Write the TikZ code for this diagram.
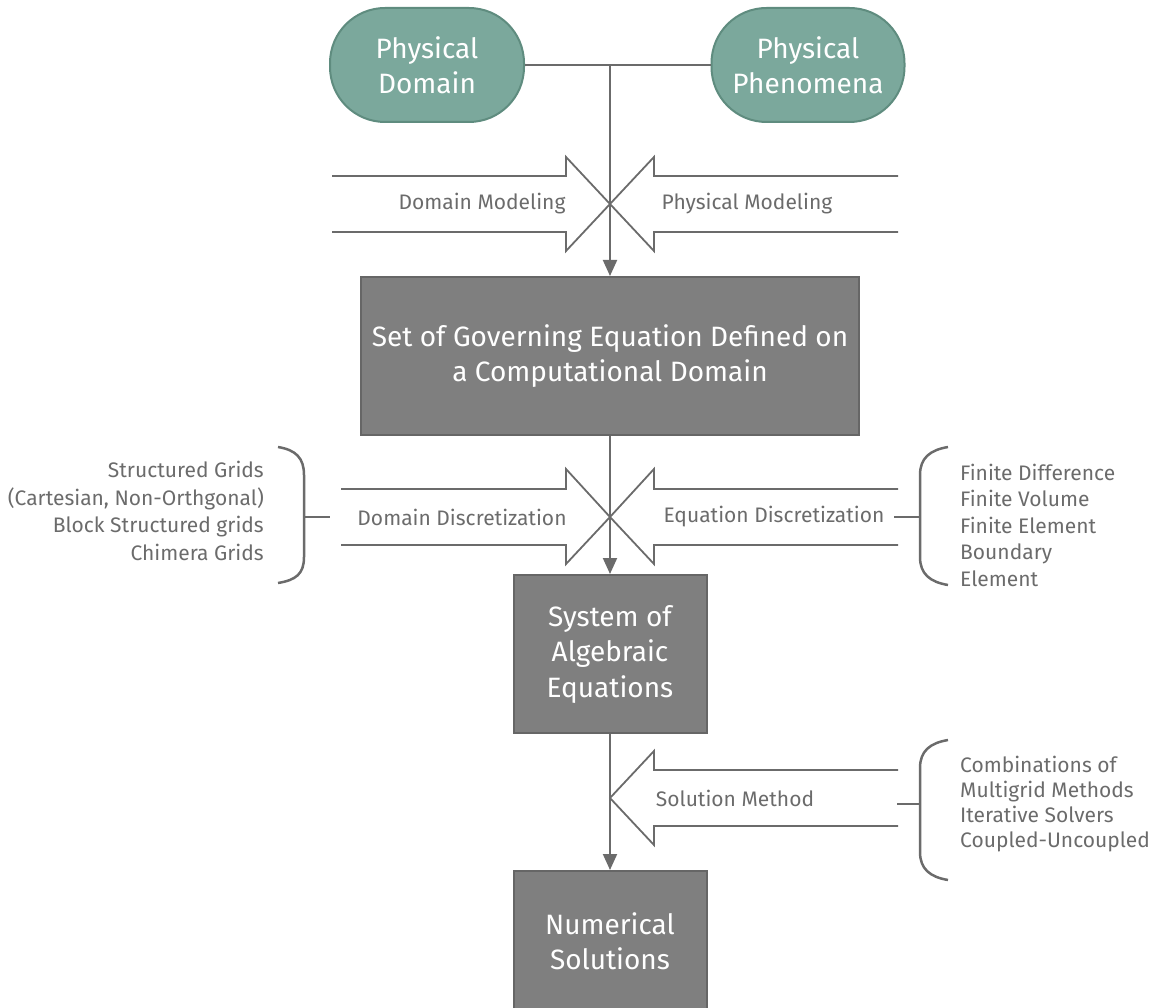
\documentclass[tikz,border=0pt]{standalone}
\usepackage{fontspec}
\setmainfont{Fira Sans}
\usetikzlibrary{arrows.meta}
\definecolor{tealfill}{HTML}{7BA89C}
\definecolor{tealedge}{HTML}{5F8C7F}
\definecolor{boxfill}{HTML}{7F7F7F}
\definecolor{boxedge}{HTML}{666666}
\definecolor{linec}{HTML}{6B6B6B}
\definecolor{txtc}{HTML}{6B6B6B}
\tikzset{
  stadium/.style={draw=tealedge, line width=2pt, fill=tealfill, rounded corners=55pt,
    text=white, align=center, font=\fontsize{28}{35}\selectfont, inner sep=0pt},
  graybox/.style={draw=boxedge, line width=2pt, fill=boxfill, text=white, align=center,
    font=\fontsize{28}{35.5}\selectfont, inner sep=0pt},
  conn/.style={draw=linec, line width=2pt},
  flow/.style={conn, -{Triangle[width=14pt,length=16pt]}},
  blockarrow/.style={draw=linec, line width=1.8pt, line join=miter},
  lbl/.style={text=txtc, font=\fontsize{21}{25}\selectfont, inner sep=0pt},
  listtxt/.style={text=txtc, inner sep=0pt},
  bracec/.style={draw=linec, line width=2.5pt}
}
\begin{document}
\begin{tikzpicture}[x=1pt,y=-1pt]
\useasboundingbox (0,0) rectangle (1160,1008);
% top nodes
\node[stadium, minimum width=194pt, minimum height=114pt] (pd) at (427,65) {Physical\\Domain};
\node[stadium, minimum width=193pt, minimum height=114pt] (pp) at (808,65) {Physical\\Phenomena};
% boxes
\node[graybox, minimum width=498pt, minimum height=158pt] (gov) at (610,356) {Set of Governing Equation Defined on\\a Computational Domain};
\node[graybox, minimum width=193pt, minimum height=158pt] (sys) at (610,654) {System of\\Algebraic\\Equations};
\node[graybox, minimum width=193pt, minimum height=140pt] (num) at (610,941) {Numerical\\Solutions};
% junction and arrow tips
\coordinate (j) at (610,65);
\coordinate (t1) at (610,204);
\coordinate (t2) at (610,517);
\coordinate (t3) at (610,798);
% block arrows pair 1
\draw[blockarrow] (332,176) -- (566,176) -- (566,157) -- (t1) -- (566,251) -- (566,232) -- (332,232);
\draw[blockarrow] (898,176) -- (654,176) -- (654,157) -- (t1) -- (654,251) -- (654,232) -- (898,232);
\node[lbl] (dm) at (482,204) {Domain Modeling};
\node[lbl] (pm) at (747,204) {Physical Modeling};
% block arrows pair 2
\draw[blockarrow] (341,489) -- (566,489) -- (566,469) -- (t2) -- (566,564) -- (566,545) -- (341,545);
\draw[blockarrow] (898,489) -- (654,489) -- (654,469) -- (t2) -- (654,564) -- (654,545) -- (898,545);
\node[lbl] (dd) at (462,517) {Domain Discretization};
\node[lbl] (ed) at (774,517) {Equation Discretization};
% block arrow 3
\draw[blockarrow] (898,770) -- (654,770) -- (654,751) -- (t3) -- (654,845) -- (654,826) -- (898,826);
\node[lbl] (sm) at (735,798) {Solution Method};
% connectors
\draw[conn] (pd.east) -- (pp.west);
\draw[flow] (j) -- (j |- gov.north);
\draw[flow] (gov.south) -- (sys.north);
\draw[flow] (sys.south) -- (num.north);
% braces
\draw[bracec] (278,447) .. controls (296,450) and (304,458) .. (304,475) -- (304,557) .. controls (304,574) and (296,580) .. (278,583);
\draw[bracec] (304,517) -- (330,517);
\draw[bracec] (948,447) .. controls (930,450) and (920,458) .. (920,475) -- (920,557) .. controls (920,574) and (930,582) .. (948,585);
\draw[bracec] (894,517) -- (920,517);
\draw[bracec] (948,740) .. controls (930,743) and (920,751) .. (920,768) -- (920,852) .. controls (920,869) and (930,877) .. (948,880);
\draw[bracec] (897,804) -- (920,804);
% lists
\node[listtxt, anchor=east, align=right, font=\fontsize{21}{27.5}\selectfont] (l1) at (264,511) {Structured Grids\\(Cartesian, Non-Orthgonal)\\Block Structured grids\\Chimera Grids};
\node[listtxt, anchor=west, align=left, font=\fontsize{21}{26.5}\selectfont] (l2) at (960,525) {Finite Difference\\Finite Volume\\Finite Element\\Boundary\\Element};
\node[listtxt, anchor=west, align=left, font=\fontsize{21}{24.7}\selectfont] (l3) at (960,804) {Combinations of\\Multigrid Methods\\Iterative Solvers\\Coupled-Uncoupled};
\end{tikzpicture}
\end{document}
